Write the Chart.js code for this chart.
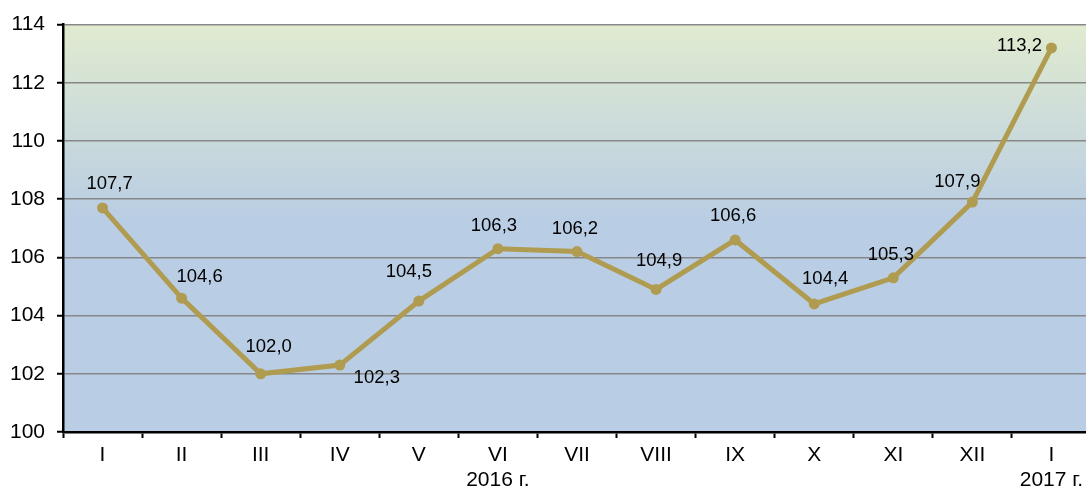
<!DOCTYPE html>
<html><head><meta charset="utf-8">
<script src="https://cdn.jsdelivr.net/npm/chart.js@4/dist/chart.umd.min.js"></script>
<style>html,body{margin:0;padding:0;background:#fff;overflow:hidden}#wrap{width:1091px;height:490px}</style>
</head><body><div id="wrap"><canvas id="c"></canvas></div>
<script>
const categories = [["I"],["II"],["III"],["IV"],["V"],["VI","2016 г."],["VII"],["VIII"],["IX"],["X"],["XI"],["XII"],["I","2017 г."]];
const values = [107.7,104.6,102.0,102.3,104.5,106.3,106.2,104.9,106.6,104.4,105.3,107.9,113.2];
const valueLabels = ["107,7","104,6","102,0","102,3","104,5","106,3","106,2","104,9","106,6","104,4","105,3","107,9","113,2"];
const yMin = 100, yMax = 114, yStep = 2;

const labelOffsets = [[7,-24],[18,-21],[8,-27],[37,12.5],[-10,-29.5],[-4,-22.5],[-2,-23],[3,-28.5],[-2,-24.5],[11,-25.5],[-2.5,-22.5],[-15,-20],[-32,-1.5]];

const bgPlugin = {
  id:'bg',
  beforeDraw(chart){
    const {ctx, chartArea:a} = chart;
    const g = ctx.createLinearGradient(0,a.top,0,a.bottom);
    g.addColorStop(0,'#e0ebcf');
    g.addColorStop(0.48,'#b9cde4');
    g.addColorStop(1,'#b9cde4');
    ctx.save(); ctx.fillStyle=g; ctx.fillRect(a.left,a.top,a.right-a.left,a.bottom-a.top); ctx.restore();
  }
};
const labelPlugin = {
  id:'vlabels',
  afterDatasetsDraw(chart){
    const ctx = chart.ctx; const meta = chart.getDatasetMeta(0);
    ctx.save();
    ctx.font = '18.5px "Liberation Sans", Arial, sans-serif';
    ctx.fillStyle = '#000'; ctx.textAlign='center'; ctx.textBaseline='middle';
    meta.data.forEach((p,i)=>{
      const o = labelOffsets[i];
      ctx.fillText(valueLabels[i], p.x+o[0], p.y+o[1]);
    });
    ctx.restore();
  }
};

new Chart(document.getElementById('c'), {
  type:'line',
  data:{labels:categories, datasets:[{data:values, borderColor:'#b09c50', backgroundColor:'#b09c50', borderWidth:5, pointRadius:5.5, pointHoverRadius:5.5, pointBackgroundColor:'#b09c50', pointBorderWidth:0, tension:0}]},
  options:{
    responsive:true, maintainAspectRatio:false, animation:false,
    layout:{autoPadding:false, padding:{top:22,left:0,right:0,bottom:0}},
    plugins:{legend:{display:false}, tooltip:{enabled:false}},
    scales:{
      x:{
        offset:true,
        grid:{offset:true, drawOnChartArea:false, drawTicks:true, tickLength:6, tickColor:'#000', tickWidth:2},
        border:{color:'#000', width:2.5},
        ticks:{color:'#000', font:{family:'"Liberation Sans", Arial, sans-serif', size:21, lineHeight:1.17}, padding:5, maxRotation:0, autoSkip:false},
        afterFit(s){ s.height = 58; }
      },
      y:{
        min:yMin, max:yMax,
        grid:{color:'#878787', lineWidth:1.5, tickColor:'#000', tickLength:6, tickWidth:2},
        border:{color:'#000', width:2.5},
        ticks:{stepSize:yStep, color:'#000', font:{family:'"Liberation Sans", Arial, sans-serif', size:21}, padding:12},
        afterFit(s){ s.width = 63; }
      }
    }
  },
  plugins:[bgPlugin,labelPlugin]
});
</script></body></html>
